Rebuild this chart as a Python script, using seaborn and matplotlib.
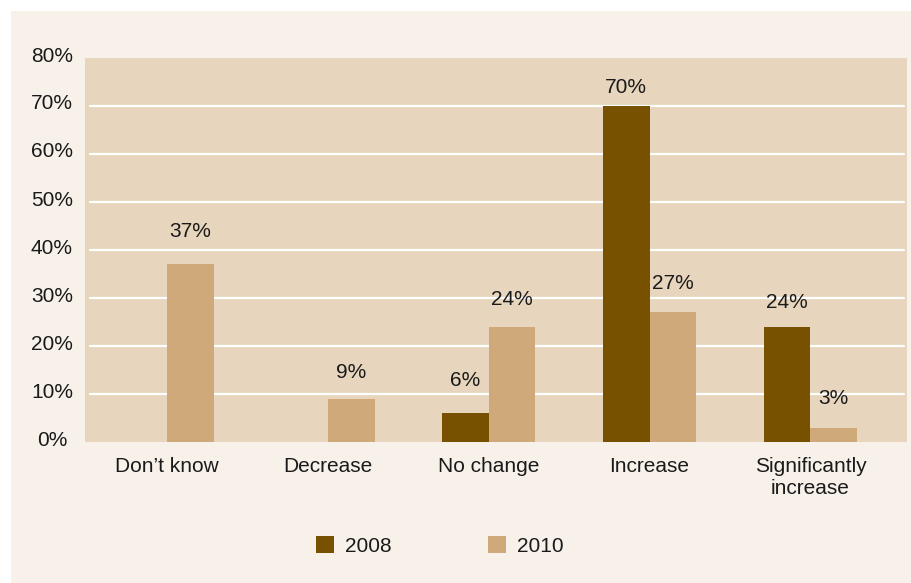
import numpy as np
import pandas as pd
import matplotlib
matplotlib.use("Agg")
import matplotlib.pyplot as plt
from matplotlib.patches import Rectangle
from matplotlib.transforms import ScaledTranslation
import seaborn as sns

# Survey answers, share of respondents per year
categories = ["Don\u2019t know", "Decrease", "No change", "Increase", "Significantly\nincrease"]
years = ["2008", "2010"]
values_2008 = [np.nan, np.nan, 6, 70, 24]
values_2010 = [37, 9, 24, 27, 3]
y_ticks = [0, 10, 20, 30, 40, 50, 60, 70, 80]
y_tick_labels = [f"{t}%" for t in y_ticks]

# Vertical gap (pixels) between each bar top and its value label
label_gap_px = {
    ("2008", "No change"): 33, ("2008", "Increase"): 18, ("2008", "Significantly\nincrease"): 24,
    ("2010", "Don\u2019t know"): 33, ("2010", "Decrease"): 26, ("2010", "No change"): 27,
    ("2010", "Increase"): 29, ("2010", "Significantly\nincrease"): 29,
}

dark_brown = "#775000"
light_tan = "#d0a97a"
panel_bg = "#e7d6bd"
outer_bg = "#f7f1ea"
text_col = "#1a1a1a"

df = pd.DataFrame({
    "category": categories * 2,
    "year": [years[0]] * len(categories) + [years[1]] * len(categories),
    "value": values_2008 + values_2010,
})

sns.set_theme(style="white")
plt.rcParams["font.family"] = ["Liberation Sans", "DejaVu Sans"]

W, H, DPI = 911, 583, 100
fig = plt.figure(figsize=(W / DPI, H / DPI), dpi=DPI, facecolor="white")
fig.patches.append(Rectangle((11 / W, 0), 1 - 11 / W, (H - 11) / H,
                             transform=fig.transFigure, facecolor=outer_bg,
                             edgecolor="none", zorder=-5))

ax = fig.add_axes([85 / W, (H - 442) / H, (907 - 85) / W, (442 - 58) / H])
ax.set_facecolor(panel_bg)
ax.set_zorder(2)

sns.barplot(data=df, x="category", y="value", hue="year", order=categories,
            hue_order=years, palette=[dark_brown, light_tan], width=0.58,
            errorbar=None, saturation=1, ax=ax, zorder=3, linewidth=0)

ax.set_xlim(-0.51, 4.60)
ax.set_ylim(0, 80)

# white horizontal rules
for t in y_ticks[1:-1]:
    ax.axhline(t, xmin=5 / 822, xmax=1 - 3 / 822, color="white", lw=1.6, zorder=1)

for s in ax.spines.values():
    s.set_visible(False)

ax.set_yticks(y_ticks)
ax.set_yticklabels(y_tick_labels)
ax.tick_params(axis="y", length=0, pad=23.8, labelsize=15, labelcolor=text_col)
for lab in ax.get_yticklabels():
    lab.set_horizontalalignment("center")
for tick in ax.yaxis.get_major_ticks():
    tick.label1.set_transform(tick.label1.get_transform()
                              + ScaledTranslation(0, 4 / DPI, fig.dpi_scale_trans))

ax.set_xticks(range(len(categories)))
ax.set_xticklabels(categories, linespacing=1.15)
ax.tick_params(axis="x", length=0, pad=11, labelsize=15, labelcolor=text_col)
ax.set_xlabel("")
ax.set_ylabel("")

# value labels above bars
for year, container in zip(years, ax.containers):
    for bar in container:
        h = bar.get_height()
        if not np.isfinite(h) or h <= 0:
            continue
        xc = bar.get_x() + bar.get_width() / 2
        cat = categories[int(round(xc))]
        gap = label_gap_px.get((year, cat), 28)
        ax.annotate(f"{h:.0f}%", (xc, h), xytext=(0, gap * 72 / DPI),
                    textcoords="offset points", ha="center", va="center",
                    fontsize=15, color=text_col, zorder=4)

handles, labels = ax.get_legend_handles_labels()
for hd in handles:
    hd.set_edgecolor("none")
if ax.get_legend() is not None:
    ax.get_legend().remove()
fig.legend(handles, labels, loc="center", bbox_to_anchor=(440 / W, 1 - 546 / H),
           ncol=2, frameon=False, fontsize=15, handlelength=0.87, handleheight=0.87,
           handletextpad=0.53, columnspacing=4.6, borderpad=0,
           labelcolor=text_col)

fig.savefig("out.png", dpi=DPI, facecolor=fig.get_facecolor())
